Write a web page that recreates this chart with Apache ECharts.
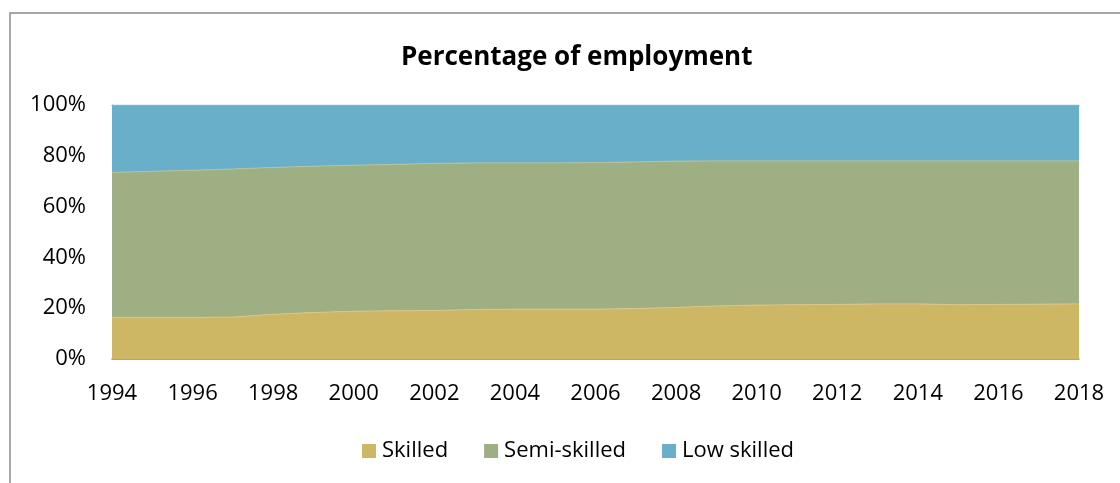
<!DOCTYPE html>
<html>
<head>
<meta charset="utf-8">
<script src="https://cdn.jsdelivr.net/npm/echarts@6/dist/echarts.min.js"></script>
<style>
  html, body { margin: 0; padding: 0; background: #fff; }
  #main { width: 1120px; height: 483px; }
</style>
</head>
<body>
<div id="main"></div>
<script>
// years on the x axis
const years = []
for (let y = 1994; y <= 2018; y++) years.push(String(y))

// percent of employment
const skilled = [16.4, 16.4, 16.4, 16.5, 17.6, 18.3, 18.8, 19.0, 19.1, 19.5, 19.6, 19.6, 19.6,
  19.9, 20.3, 20.9, 21.2, 21.4, 21.5, 21.7, 21.7, 21.4, 21.5, 21.6, 21.7]
const semiSkilled = [57.0, 57.5, 57.9, 58.3, 57.8, 57.6, 57.5, 57.6, 57.9, 57.7, 57.6, 57.6, 57.7,
  57.7, 57.6, 57.1, 56.8, 56.6, 56.5, 56.3, 56.3, 56.6, 56.5, 56.4, 56.3]
const lowSkilled = [26.6, 26.1, 25.7, 25.2, 24.6, 24.1, 23.7, 23.4, 23.0, 22.8, 22.8, 22.8, 22.7,
  22.4, 22.1, 22.0, 22.0, 22.0, 22.0, 22.0, 22.0, 22.0, 22.0, 22.0, 22.0]

const names = ['Skilled', 'Semi-skilled', 'Low skilled']
const colors = ['#CDB765', '#9DAF83', '#6AAFC9']
const edgeColors = ['#d8c58a', '#b4c2a0', '#8cc0d4']

const myChart = echarts.init(document.getElementById('main'))
const font = 'Open Sans'

function makeSeries(name, data, i) {
  return {
    name: name,
    type: 'line',
    stack: 'total',
    data: data,
    showSymbol: false,
    itemStyle: { color: colors[i] },
    lineStyle: { width: 1, color: edgeColors[i] },
    areaStyle: { color: colors[i], opacity: 1 },
    z: 3 - i
  }
}

const option = {
  animation: false,
  backgroundColor: '#fff',
  textStyle: { fontFamily: font },
  graphic: [
    {
      type: 'rect',
      shape: { x: 10, y: 13, width: 1200, height: 600 },
      style: { fill: 'none', stroke: '#8c8c8c', lineWidth: 1.5 },
      silent: true
    }
  ],
  title: {
    text: 'Percentage of employment',
    left: 396,
    top: 40,
    textStyle: { fontSize: 26, fontWeight: 'bold', color: '#000', fontFamily: font }
  },
  legend: {
    left: 357,
    top: 435,
    icon: 'rect',
    itemWidth: 14,
    itemHeight: 14,
    itemGap: 36,
    textStyle: { fontSize: 22, color: '#000', fontFamily: font, padding: [0, 0, 0, 1] },
    data: names
  },
  grid: { left: 112, right: 41, top: 105, bottom: 124 },
  xAxis: [
    {
      type: 'category',
      boundaryGap: false,
      data: years,
      axisLine: { lineStyle: { color: '#888', width: 1.5 } },
      axisTick: { show: false },
      axisLabel: {
        interval: 1,
        fontSize: 22,
        color: '#000',
        margin: 24,
        fontFamily: font
      },
      splitLine: { show: false }
    },
    {
      type: 'category',
      position: 'top',
      boundaryGap: false,
      data: years,
      axisLine: { lineStyle: { color: '#888', width: 1 } },
      axisTick: { show: false },
      axisLabel: { show: false }
    }
  ],
  yAxis: {
    type: 'value',
    min: 0,
    max: 100,
    interval: 20,
    axisLine: { show: true, lineStyle: { color: '#888', width: 1 } },
    axisTick: { show: false },
    splitLine: { show: false },
    axisLabel: {
      formatter: '{value}%',
      fontSize: 22,
      color: '#000',
      margin: 26,
      fontFamily: font
    }
  },
  series: [
    makeSeries(names[0], skilled, 0),
    makeSeries(names[1], semiSkilled, 1),
    makeSeries(names[2], lowSkilled, 2)
  ]
}

myChart.setOption(option)
window.addEventListener('resize', () => {
  myChart.resize()
})
</script>
</body>
</html>
